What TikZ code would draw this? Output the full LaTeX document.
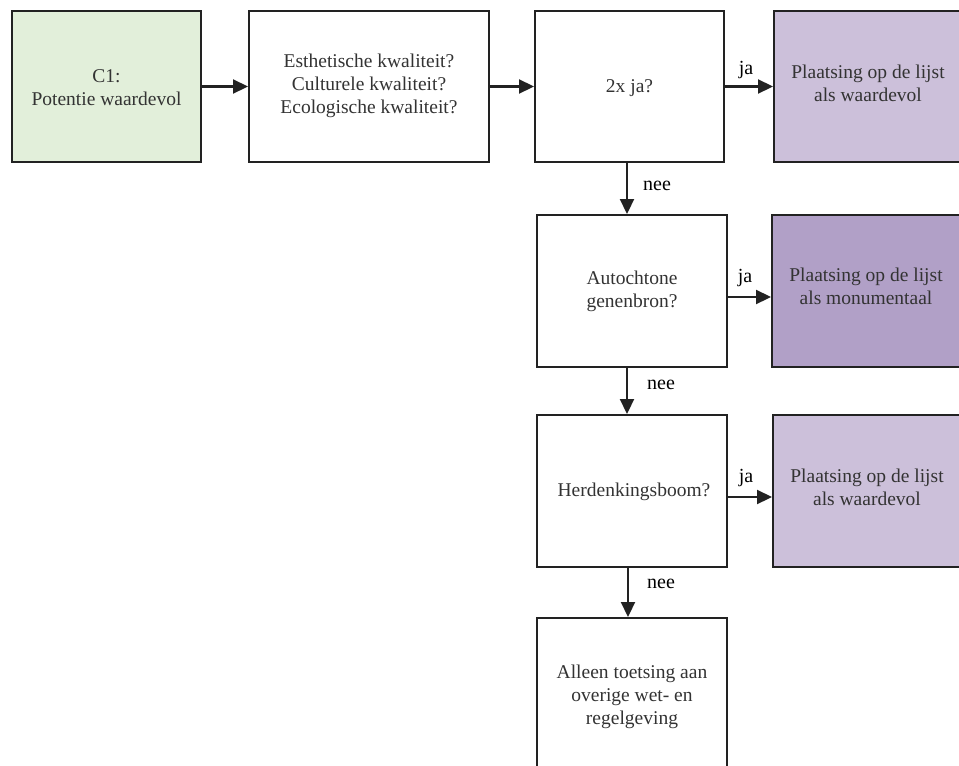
\documentclass[tikz,border=0pt]{standalone}
\usepackage{fontspec}
\setmainfont{Liberation Serif}
\usetikzlibrary{arrows.meta}
\definecolor{greenfill}{HTML}{E2EFDA}
\definecolor{lilac}{HTML}{CCC0DA}
\definecolor{lilacdark}{HTML}{B1A0C7}
\definecolor{inkc}{HTML}{222222}
\definecolor{txtc}{HTML}{333333}
\tikzset{
  box/.style={draw=inkc, line width=2pt, inner sep=0pt, rectangle},
  txt/.style={text=txtc, align=center, font=\fontsize{19.5}{23}\selectfont, inner sep=0pt},
  lbl/.style={text=black, font=\fontsize{20}{22}\selectfont, inner sep=0pt},
  arr/.style={draw=inkc, line width=2.2pt, -{Triangle[length=15pt,width=14pt]}},
}
\begin{document}
\begin{tikzpicture}[x=1pt,y=-1pt]
\useasboundingbox (0,0) rectangle (959,766);
\clip (0,0) rectangle (959,766);
% boxes
\node[box, fill=greenfill, minimum width=189pt, minimum height=151pt] (c1) at (106.5,86.5) {};
\node[box, fill=white, minimum width=240pt, minimum height=151pt] (q1) at (369,86.5) {};
\node[box, fill=white, minimum width=189pt, minimum height=151pt] (q2) at (629.5,86.5) {};
\node[box, fill=lilac, minimum width=200pt, minimum height=151pt] (r1) at (874,86.5) {};
\node[box, fill=white, minimum width=190pt, minimum height=152pt] (q3) at (632,291) {};
\node[box, fill=lilacdark, minimum width=203pt, minimum height=152pt] (r2) at (873.5,291) {};
\node[box, fill=white, minimum width=190pt, minimum height=152pt] (q4) at (632,491) {};
\node[box, fill=lilac, minimum width=202pt, minimum height=152pt] (r3) at (874,491) {};
\node[box, fill=white, minimum width=190pt, minimum height=162pt] (q5) at (632,699) {};
% texts
\node[txt] (t1) at (106.5,88) {C1:\\Potentie waardevol};
\node[txt] (t2) at (369,86) {Esthetische kwaliteit?\\Culturele kwaliteit?\\Ecologische kwaliteit?};
\node[txt] (t3) at (629.5,88) {2x ja?};
\node[txt] (t4) at (868,83) {Plaatsing op de lijst\\als waardevol};
\node[txt] (t5) at (632,291) {Autochtone\\genenbron?};
\node[txt] (t6) at (866,286) {Plaatsing op de lijst\\als monumentaal};
\node[txt] (t7) at (634,492) {Herdenkingsboom?};
\node[txt] (t8) at (867,487) {Plaatsing op de lijst\\als waardevol};
\node[txt] (t9) at (632,697) {Alleen toetsing aan\\overige wet- en\\regelgeving};
% connectors
\draw[arr] (c1.east) -- (q1.west);
\draw[arr] (q1.east) -- (q2.west);
\draw[arr] (q2.east) -- (r1.west);
\draw[arr] (q2.south -| 627,0) -- (q3.north -| 627,0);
\draw[arr] (q3.east |- 0,297) -- (r2.west |- 0,297);
\draw[arr] (q3.south -| 627,0) -- (q4.north -| 627,0);
\draw[arr] (q4.east |- 0,497) -- (r3.west |- 0,497);
\draw[arr] (q4.south -| 628,0) -- (q5.north -| 628,0);
% labels
\node[lbl] (l1) at (746,70) {ja};
\node[lbl] (l2) at (657,186) {nee};
\node[lbl] (l3) at (745,278) {ja};
\node[lbl] (l4) at (661,385) {nee};
\node[lbl] (l5) at (746,478) {ja};
\node[lbl] (l6) at (661,584) {nee};
\end{tikzpicture}
\end{document}
